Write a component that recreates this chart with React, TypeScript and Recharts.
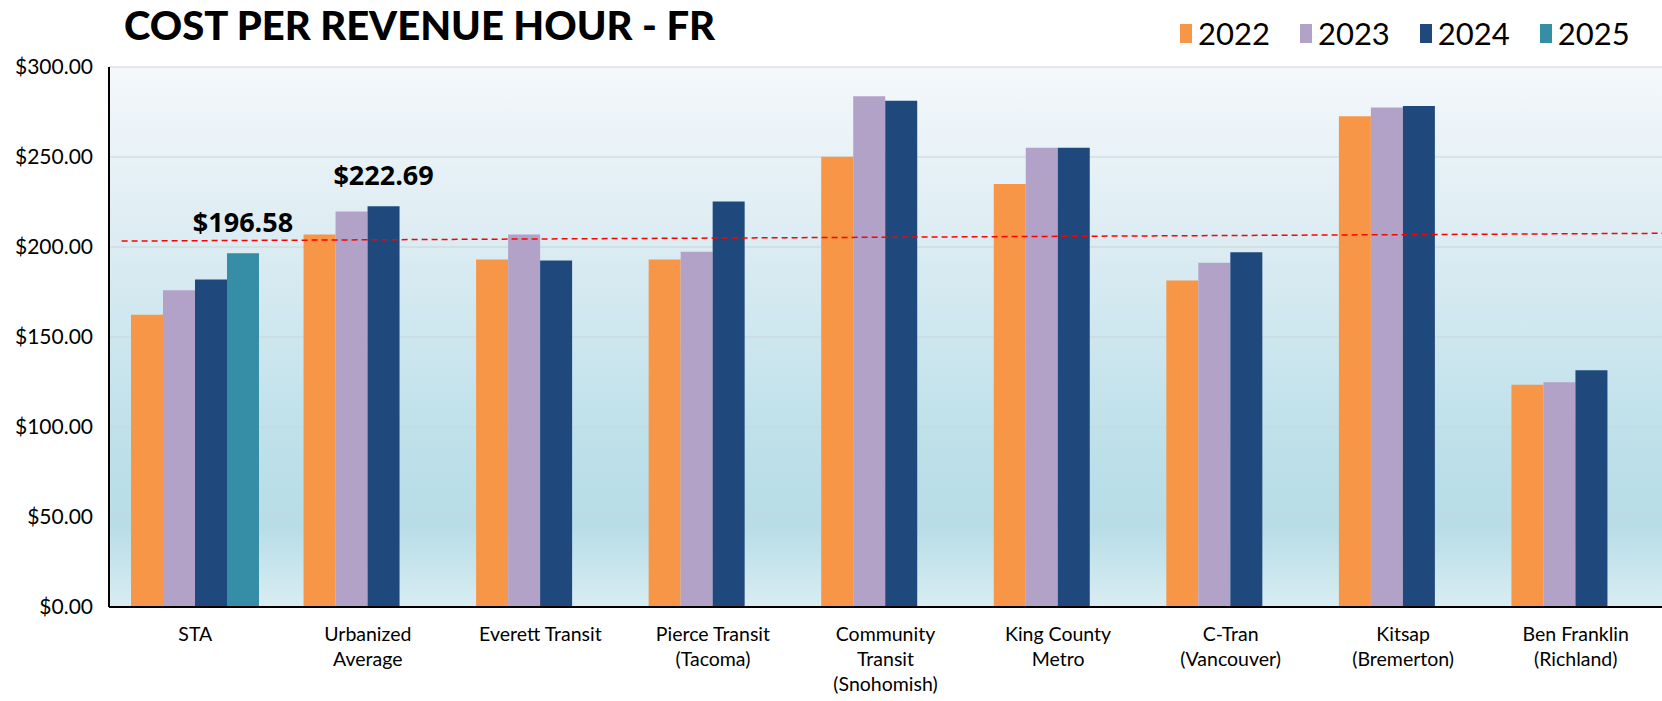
import { BarChart, Bar, XAxis, YAxis, CartesianGrid, ReferenceLine, LabelList } from "recharts";

const categories = [
  "STA",
  "Urbanized\nAverage",
  "Everett Transit",
  "Pierce Transit\n(Tacoma)",
  "Community\nTransit\n(Snohomish)",
  "King County\nMetro",
  "C-Tran\n(Vancouver)",
  "Kitsap\n(Bremerton)",
  "Ben Franklin\n(Richland)",
];

const years = ["2022", "2023", "2024", "2025"];
const cost2022 = [162.4, 207.0, 193.0, 193.0, 250.2, 235.0, 181.4, 272.7, 123.5];
const cost2023 = [176.0, 219.7, 207.0, 197.3, 283.8, 255.2, 191.2, 277.5, 124.8];
const cost2024 = [182.0, 222.69, 192.5, 225.3, 281.2, 255.2, 197.1, 278.3, 131.5];
const cost2025 = [196.58, null, null, null, null, null, null, null, null];

const yTicks = [0, 50, 100, 150, 200, 250, 300];
// red dashed reference: value at left end, value at right end
const trendStart = 203.3;
const trendEnd = 207.6;

// which bars carry a value callout
const callouts = [
  { year: "2025", index: 0 },
  { year: "2024", index: 1 },
];

const colors: Record<string, string> = {
  "2022": "#F79646",
  "2023": "#B3A2C7",
  "2024": "#1F497D",
  "2025": "#368EA6",
};

const series = [cost2022, cost2023, cost2024, cost2025];

const data = categories.map((name, i) => {
  const row: Record<string, string | number | null> = { name };
  years.forEach((yr, s) => {
    row["y" + yr] = series[s][i];
  });
  return row;
});

const FONT = "Lato, 'Open Sans', sans-serif";
const lastIdx = categories.length - 1;

function CategoryTick({ x, y, payload }: any) {
  const lines = String(payload.value).split("\n");
  return (
    <text x={x} y={y} textAnchor="middle" fontFamily={FONT} fontSize={19.5} fill="#000">
      {lines.map((line, i) => (
        <tspan key={i} x={x} dy={i === 0 ? 34 : 25}>
          {line}
        </tspan>
      ))}
    </text>
  );
}

function calloutLabel(year: string) {
  return (props: any) => {
    const { x, y, width, value, index } = props;
    if (!callouts.some((c) => c.year === year && c.index === index) || value == null) return null;
    return (
      <text
        x={Number(x) + Number(width) / 2}
        y={Number(y) - 21}
        textAnchor="middle"
        fontFamily="'Open Sans', sans-serif"
        fontWeight={700}
        fontSize={27}
        fill="#000"
      >
        {"$" + Number(value).toFixed(2)}
      </text>
    );
  };
}

function YearLegend() {
  return (
    <div
      style={{
        position: "absolute",
        left: 1180,
        top: 16,
        display: "flex",
        gap: 30,
        fontFamily: FONT,
        fontSize: 31,
        color: "#000",
      }}
    >
      {years.map((yr) => (
        <div key={yr} style={{ display: "flex", alignItems: "center", gap: 6 }}>
          <span style={{ width: 12, height: 19, background: colors[yr], display: "inline-block" }} />
          <span style={{ lineHeight: "34px" }}>{yr}</span>
        </div>
      ))}
    </div>
  );
}

export default function App() {
  return (
    <div style={{ position: "absolute", left: 0, top: 0, width: 1662, height: 701, background: "#fff" }}>
      <div
        style={{
          position: "absolute",
          left: 124,
          top: 1,
          fontFamily: FONT,
          fontWeight: 900,
          fontSize: 40,
          color: "#000",
          whiteSpace: "nowrap",
        }}
      >
        COST PER REVENUE HOUR - FR
      </div>
      <YearLegend />
      <BarChart
        width={1662}
        height={701}
        data={data}
        margin={{ top: 67, right: 0, left: 0, bottom: 0 }}
        barGap={0}
        barSize={32}
      >
        <defs>
          <linearGradient id="plotBg" x1="0" y1="0" x2="0" y2="1">
            <stop offset="0%" stopColor="#f4f8fb" />
            <stop offset="35%" stopColor="#daebf2" />
            <stop offset="70%" stopColor="#bde0e9" />
            <stop offset="85%" stopColor="#b8dde7" />
            <stop offset="100%" stopColor="#d8edf2" />
          </linearGradient>
        </defs>
        <CartesianGrid vertical={false} stroke="#c9d4d9" fill="url(#plotBg)" fillOpacity={1} />
        <XAxis
          dataKey="name"
          interval={0}
          height={94}
          tickLine={false}
          tickSize={0}
          tickMargin={0}
          axisLine={{ stroke: "#000", strokeWidth: 2 }}
          tick={<CategoryTick />}
        />
        <XAxis xAxisId="trend" type="number" domain={[0, lastIdx]} allowDataOverflow hide />
        <YAxis
          width={109}
          domain={[0, 300]}
          ticks={yTicks}
          interval={0}
          tickLine={false}
          tickSize={0}
          tickMargin={16}
          axisLine={{ stroke: "#000", strokeWidth: 2 }}
          tickFormatter={(v: number) => "$" + v.toFixed(2)}
          tick={{ fontFamily: FONT, fontSize: 21, fill: "#000" }}
        />
        {years.map((yr) => (
          <Bar key={yr} dataKey={"y" + yr} name={yr} fill={colors[yr]} isAnimationActive={false}>
            <LabelList dataKey={"y" + yr} content={calloutLabel(yr)} />
          </Bar>
        ))}
        <ReferenceLine
          xAxisId="trend"
          segment={[
            { x: 0.065, y: trendStart },
            { x: lastIdx, y: trendEnd },
          ]}
          stroke="#ff0000"
          strokeWidth={1.5}
          strokeDasharray="6 4"
          ifOverflow="visible"
        />
      </BarChart>
    </div>
  );
}
